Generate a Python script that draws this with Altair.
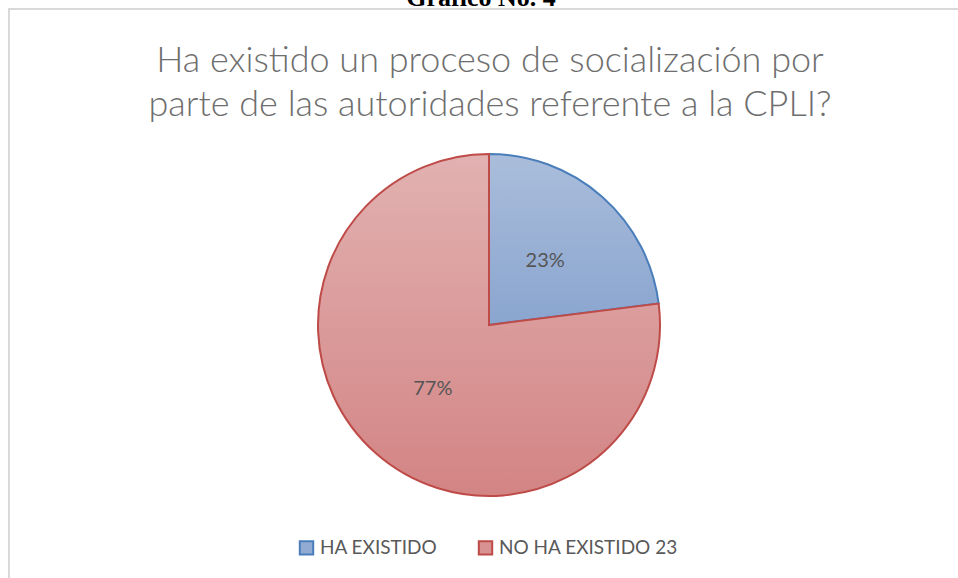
import altair as alt
import pandas as pd

categories = ["HA EXISTIDO", "NO HA EXISTIDO 23"]
values = [23, 77]
labels = ["23%", "77%"]
title_lines = ["Ha existido un proceso de socialización por",
               "parte de las autoridades referente a la CPLI?"]
header_text = "Gráfico No. 4"

fill_mid = ["#92abd3", "#d89292"]
stroke_cols = ["#4a7ebb", "#be4b48"]
grads = [
    alt.Gradient(gradient="linear", x1=0, y1=0, x2=0, y2=1,
                 stops=[alt.GradientStop(color="#aabddb", offset=0),
                        alt.GradientStop(color="#8aa5cf", offset=1)]),
    alt.Gradient(gradient="linear", x1=0, y1=0, x2=0, y2=1,
                 stops=[alt.GradientStop(color="#e2b1b1", offset=0),
                        alt.GradientStop(color="#d38484", offset=1)]),
]

df = pd.DataFrame({"cat": categories, "value": values, "label": labels,
                   "idx": list(range(len(categories)))})

CX, CY, R = 489, 325, 171
theta_scale = alt.Scale(domain=[0, 100], range=[0, 6.283185307])

base = alt.Chart(df).transform_window(
    end="sum(value)", sort=[alt.SortField("idx")], frame=[None, 0]
).transform_calculate(
    start="datum.end - datum.value",
    mid="datum.end - datum.value/2",
)

frame = alt.Chart(df).mark_rect(fill="white", stroke="#d9d9d9", strokeWidth=2).encode(
    x=alt.value(9), x2=alt.value(1100), y=alt.value(9), y2=alt.value(700)
).transform_filter("datum.idx == 0")

slices = []
for i, c in enumerate(categories):
    slices.append(
        base.transform_filter(f"datum.idx == {i}").mark_arc(
            radius=R, stroke=stroke_cols[i], strokeWidth=2, fill=grads[i]
        ).encode(
            theta=alt.Theta("start:Q", scale=theta_scale),
            theta2="end:Q",
            x=alt.value(CX), y=alt.value(CY),
        )
    )

text_labels = base.mark_text(radius=85, font="Lato", fontSize=20, color="#555555").encode(
    theta=alt.Theta("mid:Q", scale=theta_scale),
    text="label:N",
    x=alt.value(CX), y=alt.value(CY),
)

legend_layer = alt.Chart(df).mark_square(size=1, filled=True, opacity=1).encode(
    x=alt.value(CX), y=alt.value(CY),
    fill=alt.Fill("cat:N", scale=alt.Scale(domain=categories, range=fill_mid),
                  legend=alt.Legend(title=None, orient="none", direction="horizontal",
                                    legendX=297, legendY=538, symbolType="square",
                                    symbolSize=180, symbolStrokeWidth=2, symbolOpacity=1,
                                    labelFont="Lato", labelFontSize=19, labelColor="#595959",
                                    labelLimit=0, columnPadding=36, labelOffset=4)),
    stroke=alt.Stroke("cat:N", scale=alt.Scale(domain=categories, range=stroke_cols),
                      legend=alt.Legend(title=None, orient="none", direction="horizontal",
                                        legendX=297, legendY=538)),
)

title = alt.Chart(df).transform_filter("datum.idx == 0").mark_text(
    text=title_lines, font="Lato", fontSize=36, fontWeight=300, color="#6e6e6e",
    lineHeight=44, align="center", baseline="top"
).encode(x=alt.value(490), y=alt.value(44))

header = alt.Chart(df).transform_filter("datum.idx == 0").mark_text(
    text=header_text, font="Liberation Serif", fontSize=26, fontWeight="bold",
    color="#000000", align="center", baseline="alphabetic"
).encode(x=alt.value(481), y=alt.value(6))

chart = alt.layer(frame, header, title, legend_layer, *slices, text_labels).properties(
    width=958, height=578, padding=0, autosize="none", background="white"
).configure_view(stroke=None)

chart.save("out.html", embed_options={"renderer": "svg", "actions": False})
